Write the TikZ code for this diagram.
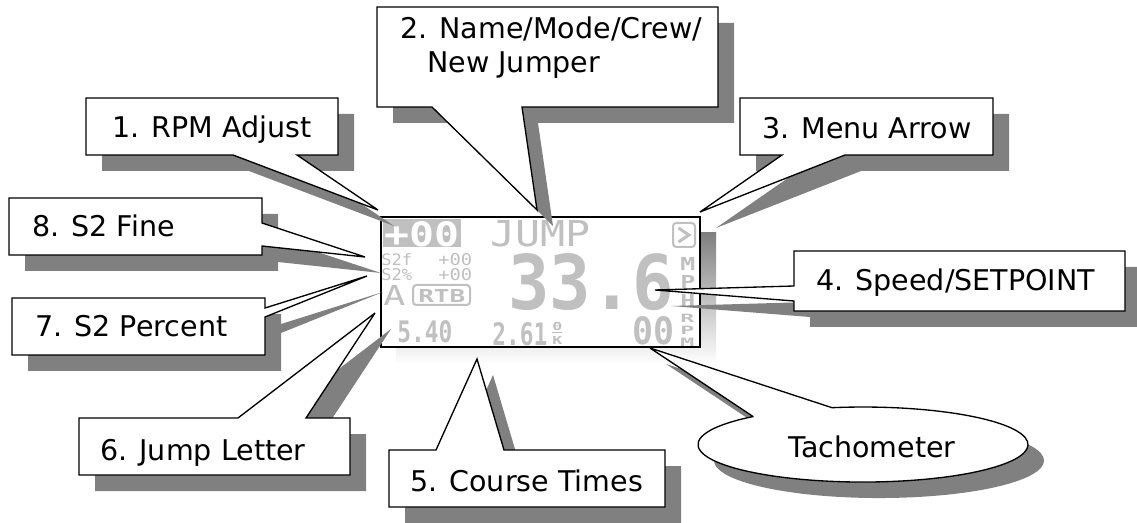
\documentclass[tikz,border=0pt]{standalone}
\usepackage{fontspec}
\usepackage{graphicx}
\setmainfont{DejaVu Sans}
\newfontfamily\lcdfont{DejaVu Sans Mono}
\newlength\lcdu \setlength\lcdu{0.75pt}
\definecolor{shade}{RGB}{128,128,128}
\definecolor{lcd}{RGB}{192,192,192}
\tikzset{
  callbody/.style={fill=white,draw=black,line width=1pt,line join=miter,miter limit=4},
  callshadow/.style={fill=shade,shift={(16,16)}},
  lbl/.style={anchor=base west,inner sep=0pt,font=\fontsize{21.4}{25}\selectfont},
  lcdtxt/.style={inner sep=0pt,text=lcd,font=\lcdfont\bfseries,anchor=north west},
  lcdthin/.style={lcdtxt,font=\lcdfont},
  lcdframe/.style={draw=lcd,line width=1.5pt,rounded corners=2.5pt},
}
\newcommand\callout[1]{\fill[callshadow] #1; \draw[callbody] #1;}
\newcommand\lcdput[7][lcdtxt]{\node[#1] (#2) at (#3,#4) {\resizebox{#5\lcdu}{#6\lcdu}{#7}};}
\begin{document}
\begin{tikzpicture}[x=0.75pt,y=-0.75pt]
\useasboundingbox (0,0) rectangle (1137,523);
% display
\fill[shade] (396,233) rectangle (716,364);
\draw[line width=1.6pt,fill=white] (381,217) rectangle (700,347);
% display contents
\fill[lcd] (383,219) rectangle (461,247);
\node[lcdtxt,text=white] (adj) at (384,221) {\resizebox{75\lcdu}{25\lcdu}{+00}};
\lcdput[lcdthin]{jump}{490}{220}{100}{26}{JUMP}
\draw[lcdframe] (673,223) rectangle (695,247);
\draw[lcd,line width=2.2pt,line join=miter] (678.5,228) -- (689,235) -- (678.5,242);
\lcdput[lcdthin]{sf}{381}{253}{31}{12}{S2f}
\lcdput[lcdthin]{sfv}{438}{253}{34}{12}{+00}
\lcdput[lcdthin]{sp}{381}{268}{31}{12}{S2\%}
\lcdput[lcdthin]{spv}{438}{268}{34}{12}{+00}
\lcdput[lcdthin]{jl}{383}{285}{22}{20}{A}
\draw[lcdframe] (413,285) rectangle (470,305);
\lcdput{rtb}{418}{289}{47}{13}{RTB}
\lcdput{spd}{508}{253}{166}{56}{33.6}
\lcdput{mph}{680}{257}{15}{50}{\shortstack{M\\P\\H}}
\lcdput{ta}{397}{320}{55}{22}{5.40}
\lcdput{tb}{492}{322}{55}{23}{2.61}
\lcdput{ok}{552}{322}{10}{22}{\shortstack{\underline{0}\\K}}
\lcdput{rpm}{632}{316}{42}{28}{00}
\lcdput{rpmu}{680}{314}{14}{32}{\shortstack{R\\P\\M}}
% callouts
\callout{(86,98) -- (338,98) -- (338,155) -- (297,155) -- (378,210) -- (233,155) -- (86,155) -- cycle}
\node[lbl] (c1) at (112,138) {1. RPM Adjust};
\callout{(9,198) -- (262,198) -- (262,223) -- (365,257) -- (262,246) -- (262,255) -- (9,255) -- cycle}
\node[lbl] (c8) at (32,237) {8. S2 Fine};
\callout{(12,298) -- (265,298) -- (265,308) -- (367,276) -- (265,317) -- (265,355) -- (12,355) -- cycle}
\node[lbl] (c7) at (35,337) {7. S2 Percent};
\callout{(79,418) -- (238,418) -- (375,313) -- (306,418) -- (350,418) -- (350,475) -- (79,475) -- cycle}
\node[lbl] (c6) at (100,460) {6. Jump Letter};
\callout{(389,450) -- (436,450) -- (477,359) -- (504,450) -- (665,450) -- (665,507) -- (389,507) -- cycle}
\node[lbl] (c5) at (410,491) {5. Course Times};
\callout{(753,416.5) -- (650,348) -- (832,407.7) arc[start angle=259.17, end angle=588.19, x radius=165, y radius=37.5] -- cycle}
\node[lbl] (tach) at (788,457) {Tachometer};
\callout{(794,251) -- (1125,251) -- (1125,311) -- (794,311) -- (794,301) -- (655,290) -- (794,286) -- cycle}
\node[lbl] (c4) at (816,291) {4. Speed/SETPOINT};
\callout{(740,98) -- (993,98) -- (993,155) -- (845,155) -- (700,212) -- (782,155) -- (740,155) -- cycle}
\node[lbl] (c3) at (762,139) {3. Menu Arrow};
\callout{(377,7) -- (718,7) -- (718,107) -- (522,107) -- (537,210) -- (432,107) -- (377,107) -- cycle}
\node[lbl] (c2a) at (400,39) {2. Name/Mode/Crew/};
\node[lbl] (c2b) at (427,73) {New Jumper};
\end{tikzpicture}
\end{document}
